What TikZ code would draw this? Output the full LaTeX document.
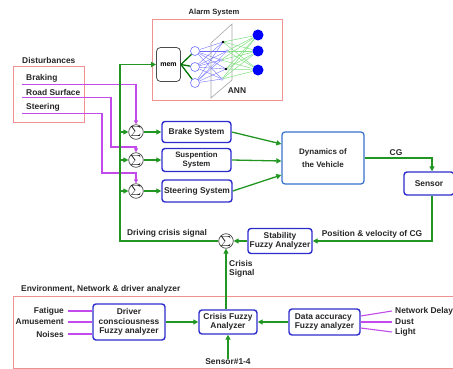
\documentclass[tikz,border=0pt]{standalone}
\usepackage{fontspec}
\setmainfont{Liberation Sans}
\usepackage{tikz}
\usetikzlibrary{arrows.meta}

\definecolor{sigGreen}{RGB}{34,150,34}
\definecolor{boxBlue}{RGB}{45,45,205}
\definecolor{dynBlue}{RGB}{55,115,205}
\definecolor{distViolet}{RGB}{195,75,235}
\definecolor{panelPink}{RGB}{240,145,145}
\definecolor{annGreen}{RGB}{130,225,130}

\begin{document}
\begin{tikzpicture}[x=1pt, y=-1pt,
    font=\fontsize{8.4}{9.4}\selectfont\bfseries,
    blockbox/.style={draw=boxBlue, line width=1.4pt, rounded corners=3pt, fill=white, align=center, inner sep=1pt, text=black!85},
    sumnode/.style={circle, draw=black!75, line width=0.7pt, minimum size=14pt, inner sep=0pt, fill=white},
    sig/.style={draw=sigGreen, line width=1.3pt},
    sigarrow/.style={sig, -{Triangle[length=5pt, width=5pt]}},
    dist/.style={draw=distViolet, line width=1.1pt},
    distarrow/.style={dist, -{Triangle[length=4pt, width=4pt]}},
    panel/.style={draw=panelPink, line width=0.8pt},
    lbl/.style={inner sep=0pt, text=black!85}]

    \useasboundingbox (0,0) rectangle (453,369);

    % Panels
    \draw[panel] (152,19) rectangle (282,100);
    \draw[panel] (13,66) rectangle (84,122);
    \draw[panel] (13,296) rectangle (460,368);
    \node[lbl, font=\fontsize{7.6}{9}\selectfont\bfseries] (alarmlbl) at (214,13) {Alarm System};
    \node[lbl, anchor=west] (distlbl) at (22,60) {Disturbances};
    \node[lbl, anchor=west] (envlbl) at (21,289) {Environment, Network \& driver analyzer};

    % Alarm system
    \node[draw=black!70, line width=0.8pt, rounded corners=4pt, minimum width=24pt, minimum height=34pt, inner sep=0pt, fill=white, font=\fontsize{7}{8}\selectfont\bfseries] (mem) at (168.5,64.5) {mem};
    \foreach \i/\y in {1/51, 2/67, 3/83}
        \node[circle, draw=blue!55, line width=0.6pt, fill=white, minimum size=9pt, inner sep=0pt] (in\i) at (195,\y) {};
    \foreach \i/\y in {1/35, 2/51, 3/70}
        \node[circle, fill=blue, minimum size=11pt, inner sep=0pt] (out\i) at (258,\y) {};
    \coordinate (h1) at (223,42);
    \coordinate (h2) at (227,51);
    \coordinate (h3) at (221,60);
    \coordinate (h4) at (226,69);
    \coordinate (h5) at (222,79);
    \foreach \i in {1,2,3}
        \draw[draw=green!45!black, line width=1.3pt] (mem.east) -- (in\i);
    \foreach \i in {1,2,3}
        \foreach \h in {h1,h2,h3,h4,h5}
            \draw[draw=blue!60, line width=0.35pt] (in\i) -- (\h);
    \draw[draw=gray!70, line width=0.6pt] (211,43) -- (232,24) -- (232,80) -- (211,98) -- cycle;
    \foreach \h in {h1,h2,h3,h4,h5}
        \foreach \i in {1,2,3}
            \draw[draw=annGreen, line width=0.5pt] (\h) -- (out\i);
    \fill[black] (h1) circle (1.3pt) (h4) circle (1.3pt);
    \foreach \h in {h2,h3,h5}
        \draw[draw=blue!50, fill=white, line width=0.4pt] (\h) circle (1.4pt);
    \node[lbl] (annlbl) at (237,91) {ANN};

    % Disturbances
    \node[lbl, anchor=west] (braking) at (26,78) {Braking};
    \node[lbl, anchor=west] (road) at (26,92) {Road Surface};
    \node[lbl, anchor=west] (steering) at (26,107) {Steering};

    % Nodes
    \node[sumnode] (s1) at (136,132) {$\scriptstyle\sum$};
    \node[sumnode] (s2) at (136,160) {$\scriptstyle\sum$};
    \node[sumnode] (s3) at (136,191) {$\scriptstyle\sum$};
    \node[sumnode] (s4) at (226,241) {$\scriptstyle\sum$};
    \node[blockbox, minimum width=69pt, minimum height=21pt] (brake) at (196.5,132) {Brake System};
    \node[blockbox, minimum width=69pt, minimum height=23pt, font=\fontsize{7.8}{8.4}\selectfont\bfseries] (susp) at (196.5,160) {Suspention\\System};
    \node[blockbox, minimum width=70pt, minimum height=22pt] (steer) at (197,191) {Steering System};
    \node[blockbox, draw=dynBlue, line width=1.2pt, minimum width=82pt, minimum height=52pt, font=\fontsize{8}{13}\selectfont\bfseries] (dyn) at (323,158) {Dynamics of\\the Vehicle};
    \node[blockbox, minimum width=50pt, minimum height=23pt] (sensor) at (429,183.5) {Sensor};
    \node[blockbox, minimum width=64pt, minimum height=25pt] (stab) at (280,241) {Stability\\Fuzzy Analyzer};
    \node[blockbox, minimum width=72pt, minimum height=36pt] (driver) at (129,322) {Driver\\consciousness\\Fuzzy analyzer};
    \node[blockbox, minimum width=58pt, minimum height=24pt] (crisis) at (228,322) {Crisis Fuzzy\\Analyzer};
    \node[blockbox, minimum width=71pt, minimum height=26pt, align=left] (data) at (324.5,322) {Data accuracy\\Fuzzy analyzer};
    \coordinate (spine) at (120,241);

    % Labels
    \node[lbl] (cglbl) at (396,153) {CG};
    \node[lbl] (poslbl) at (372,234) {Position \& velocity of CG};
    \node[lbl] (drivlbl) at (167,233) {Driving crisis signal};
    \node[lbl, anchor=west, align=left, font=\fontsize{8.4}{8.8}\selectfont\bfseries] (crislbl) at (229,269) {Crisis\\Signal};
    \node[lbl, anchor=east] (fatigue) at (64,311) {Fatigue};
    \node[lbl, anchor=east] (amuse) at (64,322) {Amusement};
    \node[lbl, anchor=east] (noise) at (64,334) {Noises};
    \node[lbl, anchor=west] (netdelay) at (395,311) {Network Delay};
    \node[lbl, anchor=west] (dust) at (395,322) {Dust};
    \node[lbl, anchor=west] (light) at (395,332) {Light};
    \node[lbl] (sensnum) at (228,362) {Sensor\#1-4};

    % Lines
    \draw[distarrow] ([xshift=-4pt, yshift=-2pt]braking.south west) -| (s1.north);
    \draw[distarrow] ([xshift=-4pt, yshift=-2pt]road.south west) -| (111,147) -| (s2.north);
    \draw[distarrow] ([xshift=-4pt, yshift=-2pt]steering.south west) -| (102,173) -| (s3.north);
    \draw[sigarrow] (s4.west) -- (spine) |- (mem.west);
    \draw[sigarrow] (s1.west -| spine) -- (s1.west);
    \draw[sigarrow] (s2.west -| spine) -- (s2.west);
    \draw[sigarrow] (s3.west -| spine) -- (s3.west);
    \draw[sigarrow] (s1) -- (brake);
    \draw[sigarrow] (s2) -- (susp);
    \draw[sigarrow] (s3) -- (steer);
    \draw[sigarrow] (brake.east) -- ([yshift=14pt]dyn.west);
    \draw[sigarrow] (susp.east) -- ([yshift=-3pt]dyn.west);
    \draw[sigarrow] (steer.east) -- ([yshift=-17pt]dyn.west);
    \draw[sigarrow] (dyn.east) -| ([xshift=3pt]sensor.north);
    \draw[sigarrow] ([xshift=3pt]sensor.south) |- (stab.east);
    \draw[sigarrow] (stab.west) -- (s4.east);
    \draw[sigarrow] (crisis.north -| s4) -- (s4.south);
    \draw[sigarrow] (driver.east) -- (crisis.west);
    \draw[sigarrow] (data.west) -- (crisis.east);
    \draw[sigarrow] (sensnum.north) -- (crisis.south);
    \draw[dist] ([xshift=4pt]fatigue.east) -- (fatigue.east -| driver.west);
    \draw[dist] ([xshift=4pt]amuse.east) -- (amuse.east -| driver.west);
    \draw[dist] ([xshift=4pt]noise.east) -- (noise.east -| driver.west);
    \draw[dist] ([yshift=6pt]data.east) -- ([xshift=-3pt]netdelay.west);
    \draw[dist] (data.east) -- ([xshift=-3pt]dust.west);
    \draw[dist] ([yshift=-6pt]data.east) -- ([xshift=-3pt]light.west);
\end{tikzpicture}
\end{document}
